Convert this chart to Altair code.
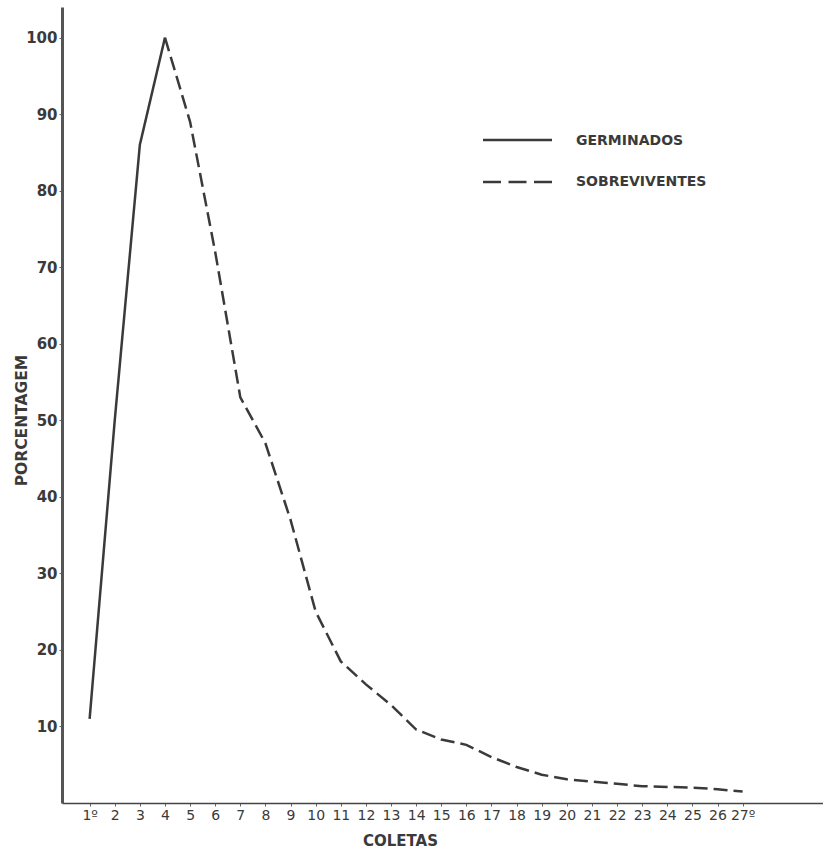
import altair as alt
import pandas as pd

# Germinados (solid) : coletas 1-4
germ_x = [1, 2, 3, 4]
germ_y = [11, 50, 86, 100]
# Sobreviventes (dashed) : coletas 4-27
sobr_x = list(range(4, 28))
sobr_y = [100, 89, 72, 53, 47, 37, 25, 18.5, 15.5, 12.8, 9.6, 8.3, 7.6, 6.0,
          4.7, 3.7, 3.1, 2.8, 2.5, 2.2, 2.1, 2.0, 1.8, 1.5]

series = ["GERMINADOS", "SOBREVIVENTES"]

rows = [{"coleta": x, "pct": y, "serie": series[0]} for x, y in zip(germ_x, germ_y)]
rows += [{"coleta": x, "pct": y, "serie": series[1]} for x, y in zip(sobr_x, sobr_y)]
df = pd.DataFrame(rows)

FONT = "DejaVu Sans"
INK = "#3a3a3a"

lines = alt.Chart(df).mark_line(strokeWidth=2.5, color=INK).encode(
    x=alt.X("coleta:Q",
            scale=alt.Scale(domain=[-0.1, 30.2], nice=False, zero=False),
            axis=alt.Axis(values=list(range(1, 28)), grid=False,
                          labelExpr="datum.value == 1 ? '1º' : (datum.value == 27 ? '27º' : datum.value)",
                          title="COLETAS", titleX=338, titleY=37, titleBaseline="middle",
                          titleAnchor="start", titleAlign="center",
                          labelFontSize=14, labelColor=INK, labelFont=FONT, labelPadding=2,
                          tickSize=3, tickColor="#666", domainColor="#444", domainWidth=1.5,
                          titleFont=FONT, titleFontSize=15, titleColor=INK, titleFontWeight="bold")),
    y=alt.Y("pct:Q",
            scale=alt.Scale(domain=[0, 104], nice=False),
            axis=alt.Axis(values=list(range(10, 101, 10)), grid=False,
                          title="PORCENTAGEM", titleAngle=-90, titleX=-41, titleY=413,
                          titleBaseline="middle", titleAlign="center", titleAnchor="start",
                          labelFontSize=15, labelColor=INK, labelFont=FONT, labelFontWeight="bold",
                          labelPadding=2, tickSize=3, tickColor="#666",
                          domainColor="#555", domainWidth=3,
                          titleFont=FONT, titleFontSize=15.5, titleColor=INK, titleFontWeight="bold")),
    strokeDash=alt.StrokeDash("serie:N",
                              scale=alt.Scale(domain=series, range=[[1, 0], [14, 6]]),
                              legend=None),
    detail="serie:N",
)

leg_df = pd.DataFrame({"serie": series})

leg_solid = alt.Chart(leg_df).transform_filter(alt.datum.serie == series[0]).mark_rule(
    strokeWidth=2.5, color=INK
).encode(x=alt.value(421), x2=alt.value(490), y=alt.value(133))

leg_dash = alt.Chart(leg_df).transform_filter(alt.datum.serie == series[1]).mark_rule(
    strokeWidth=2.5, color=INK, strokeDash=[18, 7.5]
).encode(x=alt.value(421), x2=alt.value(490), y=alt.value(175))

leg_text1 = alt.Chart(leg_df).transform_filter(alt.datum.serie == series[0]).mark_text(
    align="left", baseline="middle", font=FONT, fontSize=14, fontWeight="bold", color=INK
).encode(x=alt.value(514), y=alt.value(134), text="serie:N")

leg_text2 = alt.Chart(leg_df).transform_filter(alt.datum.serie == series[1]).mark_text(
    align="left", baseline="middle", font=FONT, fontSize=14, fontWeight="bold", color=INK
).encode(x=alt.value(514), y=alt.value(175), text="serie:N")

chart = alt.layer(lines, leg_solid, leg_dash, leg_text1, leg_text2).properties(
    width=761, height=796,
    autosize=alt.AutoSizeParams(type="none"),
    padding={"left": 62, "top": 7, "right": 0, "bottom": 46},
).configure(background="white").configure_view(stroke=None)

chart.save("out.html", embed_options={"renderer": "svg", "actions": False})
